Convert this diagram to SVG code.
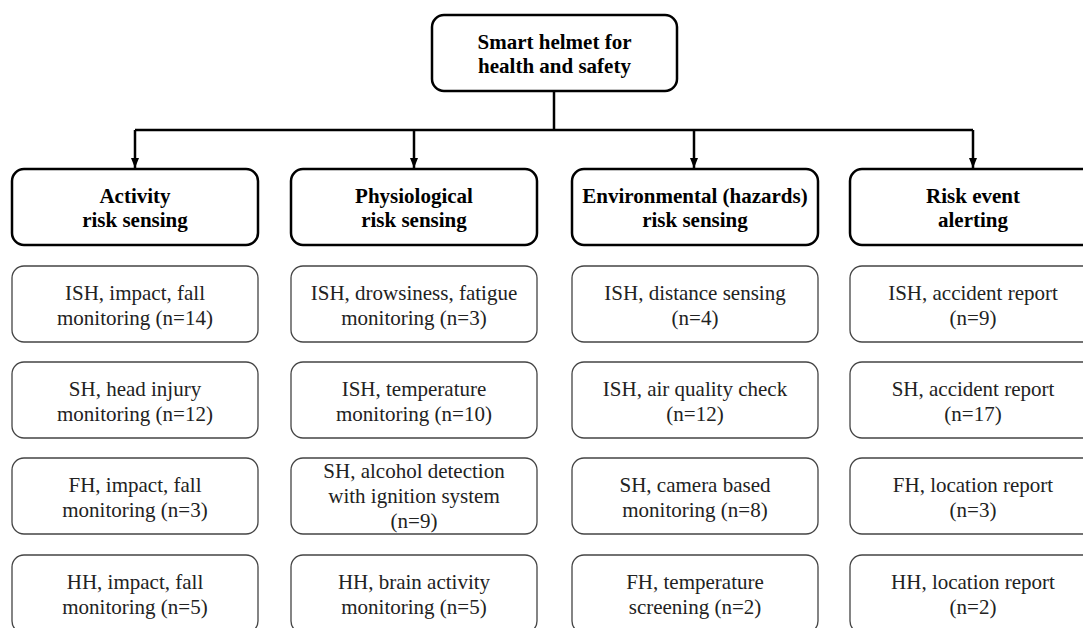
<svg xmlns="http://www.w3.org/2000/svg" width="1083" height="628" viewBox="0 0 1083 628">
<defs>
<style>
.cat{fill:#fff;stroke:#000;stroke-width:2.5}
.sub{fill:#fff;stroke:#444;stroke-width:1.3}
.bt{font-family:'Liberation Serif','DejaVu Serif',serif;font-size:21px;font-weight:bold;fill:#000;text-anchor:middle}
.rt{font-family:'Liberation Serif','DejaVu Serif',serif;font-size:21px;fill:#222;text-anchor:middle}
.ln{fill:none;stroke:#000;stroke-width:2.5}
</style>
<marker id="ah" markerUnits="userSpaceOnUse" markerWidth="10" markerHeight="10" viewBox="0 0 10 10" refX="10" refY="5" orient="auto">
<path d="M0,1 L10,5 L0,9 Z" fill="#000"/>
</marker>
</defs>
<rect width="1083" height="628" fill="#fff"/>
<g id="connectors">
<path class="ln" d="M554,91 V130"/>
<path class="ln" d="M135,130 H973"/>
<path class="ln" d="M135,130 V168" marker-end="url(#ah)"/>
<path class="ln" d="M414,130 V168" marker-end="url(#ah)"/>
<path class="ln" d="M694,130 V168" marker-end="url(#ah)"/>
<path class="ln" d="M973,130 V168" marker-end="url(#ah)"/>
</g>
<g id="root">
<rect class="cat" x="432" y="15" width="245" height="76" rx="12"/>
<text class="bt" x="554.5" y="49">Smart helmet for</text>
<text class="bt" x="554.5" y="73">health and safety</text>
</g>
<g id="cat1">
<rect class="cat" x="12" y="169" width="246" height="76" rx="12"/>
<text class="bt" x="135" y="203">Activity</text>
<text class="bt" x="135" y="227">risk sensing</text>
</g>
<g id="cat2">
<rect class="cat" x="291" y="169" width="246" height="76" rx="12"/>
<text class="bt" x="414" y="203">Physiological</text>
<text class="bt" x="414" y="227">risk sensing</text>
</g>
<g id="cat3">
<rect class="cat" x="572" y="169" width="246" height="76" rx="12"/>
<text class="bt" x="695" y="203">Environmental (hazards)</text>
<text class="bt" x="695" y="227">risk sensing</text>
</g>
<g id="cat4">
<rect class="cat" x="850" y="169" width="246" height="76" rx="12"/>
<text class="bt" x="973" y="203">Risk event</text>
<text class="bt" x="973" y="227">alerting</text>
</g>
<g id="a1"><rect class="sub" x="12" y="266" width="246" height="76" rx="12"/>
<text class="rt" x="135" y="300">ISH, impact, fall</text><text class="rt" x="135" y="325">monitoring (n=14)</text></g>
<g id="a2"><rect class="sub" x="12" y="362" width="246" height="76" rx="12"/>
<text class="rt" x="135" y="396">SH, head injury</text><text class="rt" x="135" y="421">monitoring (n=12)</text></g>
<g id="a3"><rect class="sub" x="12" y="458" width="246" height="76" rx="12"/>
<text class="rt" x="135" y="492">FH, impact, fall</text><text class="rt" x="135" y="517">monitoring (n=3)</text></g>
<g id="a4"><rect class="sub" x="12" y="555" width="246" height="78" rx="12"/>
<text class="rt" x="135" y="589">HH, impact, fall</text><text class="rt" x="135" y="614">monitoring (n=5)</text></g>
<g id="p1"><rect class="sub" x="291" y="266" width="246" height="76" rx="12"/>
<text class="rt" x="414" y="300">ISH, drowsiness, fatigue</text><text class="rt" x="414" y="325">monitoring (n=3)</text></g>
<g id="p2"><rect class="sub" x="291" y="362" width="246" height="76" rx="12"/>
<text class="rt" x="414" y="396">ISH, temperature</text><text class="rt" x="414" y="421">monitoring (n=10)</text></g>
<g id="p3"><rect class="sub" x="291" y="458" width="246" height="76" rx="12"/>
<text class="rt" x="414" y="478">SH, alcohol detection</text><text class="rt" x="414" y="503">with ignition system</text><text class="rt" x="414" y="528">(n=9)</text></g>
<g id="p4"><rect class="sub" x="291" y="555" width="246" height="78" rx="12"/>
<text class="rt" x="414" y="589">HH, brain activity</text><text class="rt" x="414" y="614">monitoring (n=5)</text></g>
<g id="e1"><rect class="sub" x="572" y="266" width="246" height="76" rx="12"/>
<text class="rt" x="695" y="300">ISH, distance sensing</text><text class="rt" x="695" y="325">(n=4)</text></g>
<g id="e2"><rect class="sub" x="572" y="362" width="246" height="76" rx="12"/>
<text class="rt" x="695" y="396">ISH, air quality check</text><text class="rt" x="695" y="421">(n=12)</text></g>
<g id="e3"><rect class="sub" x="572" y="458" width="246" height="76" rx="12"/>
<text class="rt" x="695" y="492">SH, camera based</text><text class="rt" x="695" y="517">monitoring (n=8)</text></g>
<g id="e4"><rect class="sub" x="572" y="555" width="246" height="78" rx="12"/>
<text class="rt" x="695" y="589">FH, temperature</text><text class="rt" x="695" y="614">screening (n=2)</text></g>
<g id="r1"><rect class="sub" x="850" y="266" width="246" height="76" rx="12"/>
<text class="rt" x="973" y="300">ISH, accident report</text><text class="rt" x="973" y="325">(n=9)</text></g>
<g id="r2"><rect class="sub" x="850" y="362" width="246" height="76" rx="12"/>
<text class="rt" x="973" y="396">SH, accident report</text><text class="rt" x="973" y="421">(n=17)</text></g>
<g id="r3"><rect class="sub" x="850" y="458" width="246" height="76" rx="12"/>
<text class="rt" x="973" y="492">FH, location report</text><text class="rt" x="973" y="517">(n=3)</text></g>
<g id="r4"><rect class="sub" x="850" y="555" width="246" height="78" rx="12"/>
<text class="rt" x="973" y="589">HH, location report</text><text class="rt" x="973" y="614">(n=2)</text></g>
</svg>
